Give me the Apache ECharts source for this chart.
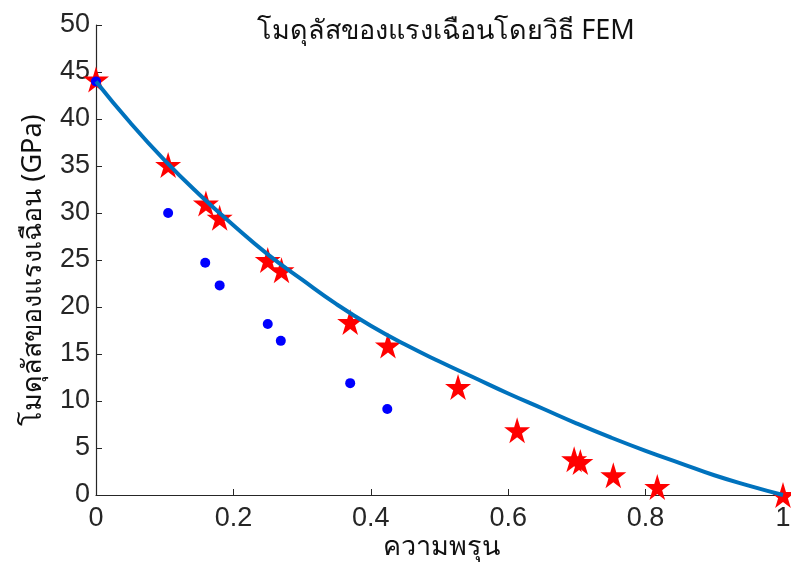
<!DOCTYPE html>
<html><head><meta charset="utf-8">
<script src="https://cdn.jsdelivr.net/npm/echarts@6/dist/echarts.min.js"></script>
<style>html,body{margin:0;padding:0;background:#fff}#c{width:791px;height:563px}</style>
</head><body><div id="c"></div>
<script>
const titleText = 'โมดุลัสของแรงเฉือนโดยวิธี FEM';
const xName = 'ความพรุน';
const yName = 'โมดุลัสของแรงเฉือน (GPa)';
const starX = [0, 0.105, 0.16, 0.18, 0.25, 0.27, 0.37, 0.425, 0.527, 0.613, 0.696, 0.705, 0.753, 0.817, 1];
const starY = [44.2, 35.1, 31.0, 29.5, 25.0, 23.9, 18.4, 15.9, 11.5, 6.9, 3.8, 3.5, 2.1, 0.85, 0];
const dotX = [0, 0.105, 0.159, 0.18, 0.25, 0.269, 0.37, 0.424];
const dotY = [44.0, 30.0, 24.7, 22.3, 18.2, 16.4, 11.9, 9.15];
const curveX = [0, 0.05, 0.1, 0.15, 0.2, 0.25, 0.3, 0.35, 0.4, 0.45, 0.5, 0.55, 0.6, 0.65, 0.7, 0.75, 0.8, 0.85, 0.9, 0.95, 1];
const curveY = [44.0, 39.6, 35.6, 32.0, 28.7, 25.6, 22.9, 20.3, 18.0, 16.0, 14.2, 12.5, 10.8, 9.2, 7.6, 6.1, 4.7, 3.4, 2.1, 1.0, 0];

const zip = (a, b) => a.map((v, i) => [v, b[i]]);
const starPath = 'path://M50,0 L61,35 L98,35 L68,57 L79,91 L50,70 L21,91 L32,57 L2,35 L39,35 Z';
const txt = '#262626';
const thai = 'Noto Sans, sans-serif';
const chart = echarts.init(document.getElementById('c'), null, {renderer: 'canvas'});
chart.setOption({
  animation: false,
  backgroundColor: '#fff',
  title: {text: titleText, left: 441, textAlign: 'center', top: 13,
    textStyle: {fontSize: 27, fontWeight: 'normal', color: '#111', fontFamily: thai}},
  grid: {left: 96, right: 8, top: 25, bottom: 68, outerBoundsMode: 'none', containLabel: false},
  graphic: [
    {type: 'text', x: 33, y: 270, rotation: Math.PI / 2,
      style: {text: yName, fontSize: 27, fill: '#111', fontFamily: thai, align: 'center', verticalAlign: 'middle'}},
    {type: 'text', x: 441, y: 547,
      style: {text: xName, fontSize: 27, fill: '#111', fontFamily: thai, align: 'center', verticalAlign: 'middle'}}
  ],
  xAxis: {type: 'value', min: 0, max: 1, interval: 0.2,
    axisLine: {lineStyle: {color: txt, width: 1.2}},
    axisTick: {inside: true, length: 6, lineStyle: {color: txt}},
    axisLabel: {fontSize: 27, color: txt, margin: 10, fontFamily: 'Liberation Sans, Arial',
      formatter: v => (Math.round(v * 10) / 10).toString()},
    splitLine: {show: false}},
  yAxis: {type: 'value', min: 0, max: 50, interval: 5,
    axisLine: {show: true, lineStyle: {color: txt, width: 1.2}},
    axisTick: {show: true, inside: true, length: 6, lineStyle: {color: txt}},
    axisLabel: {fontSize: 27, color: txt, margin: 6, fontFamily: 'Liberation Sans, Arial'},
    splitLine: {show: false}},
  series: [
    {type: 'scatter', data: zip(starX, starY), symbol: starPath, symbolSize: 26,
      itemStyle: {color: '#ff0000', opacity: 1}, z: 2},
    {type: 'scatter', data: zip(dotX, dotY), symbol: 'circle', symbolSize: 10,
      itemStyle: {color: '#0000ff', opacity: 1}, z: 3},
    {type: 'line', data: zip(curveX, curveY), smooth: true, showSymbol: false,
      lineStyle: {color: '#0072BD', width: 4}, z: 4}
  ]
});
</script></body></html>
